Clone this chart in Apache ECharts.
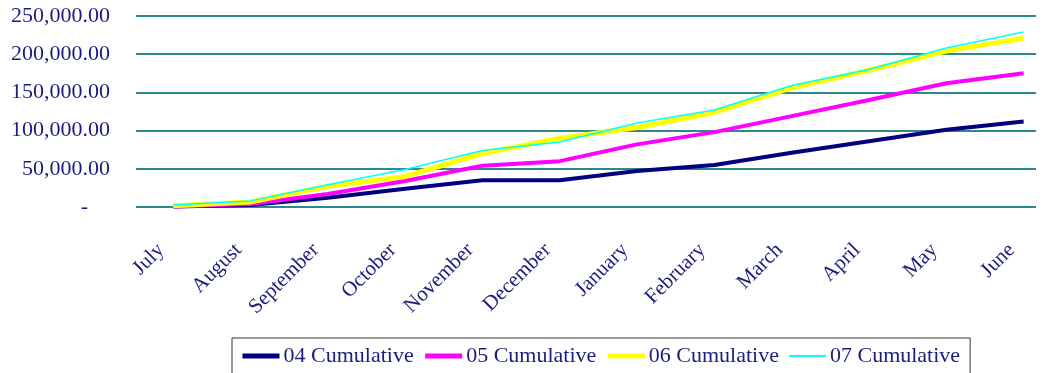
<!DOCTYPE html>
<html>
<head>
<meta charset="utf-8">
<script src="https://cdn.jsdelivr.net/npm/echarts@6/dist/echarts.min.js"></script>
<style>
  html, body { margin: 0; padding: 0; background: #fff; }
  #chart { width: 1052px; height: 373px; }
</style>
</head>
<body>
<div id="chart"></div>
<script>
// months along the x axis
var months = ['July', 'August', 'September', 'October', 'November', 'December',
  'January', 'February', 'March', 'April', 'May', 'June'];

// cumulative totals
var cum04 = [500, 2500, 12000, 24000, 35000, 35000, 47000, 55000, 71000, 86000, 101000, 112000];
var cum05 = [500, 4000, 17000, 34000, 54000, 60000, 82000, 98000, 119000, 140000, 162000, 175000];
var cum06 = [1500, 6500, 27000, 40000, 70000, 90000, 104000, 124000, 156000, 179000, 204000, 221000];
var cum07 = [2500, 8000, 29000, 49000, 74000, 85000, 110000, 127000, 159000, 180000, 208000, 229000];

var yTicks = [0, 50000, 100000, 150000, 200000, 250000];

var navy = '#1c1c80';
var font = '"Liberation Serif", "DejaVu Serif", serif';

function pairs(arr) {
  return arr.map(function (v, i) { return [i, v]; });
}

function fmt(v) {
  if (v === 0) return '{d|-}';
  return v.toLocaleString('en-US', { minimumFractionDigits: 2, maximumFractionDigits: 2 });
}

var myChart = echarts.init(document.getElementById('chart'));

var option = {
  animation: false,
  grid: { left: 136, right: 16, top: 16, bottom: 166 },
  xAxis: {
    type: 'value',
    min: -0.48,
    max: 11.16,
    splitLine: { show: false },
    axisLine: { show: false },
    axisTick: { show: false },
    axisLabel: {
      customValues: months.map(function (m, i) { return i; }),
      formatter: function (v) { return months[Math.round(v)]; },
      rotate: 45,
      margin: 28,
      padding: [0, 17, 0, 0],
      color: navy,
      fontSize: 21,
      fontFamily: font
    }
  },
  yAxis: {
    type: 'value',
    min: 0,
    max: yTicks[yTicks.length - 1],
    interval: 50000,
    axisLine: { show: false },
    axisTick: { show: false },
    splitLine: { lineStyle: { color: '#2a8a8a', width: 2 } },
    axisLabel: {
      margin: 26,
      color: navy,
      fontSize: 22,
      fontFamily: font,
      formatter: fmt,
      rich: { d: { color: navy, fontSize: 22, fontFamily: font, padding: [0, 22, 0, 0] } }
    }
  },
  legend: {
    top: 338,
    left: 232,
    padding: [7, 10, 14, 8],
    borderColor: '#333',
    borderWidth: 1,
    itemWidth: 37,
    itemHeight: 14,
    itemGap: 9,
    itemStyle: { opacity: 0 },
    textStyle: { color: navy, fontSize: 22, fontFamily: font, padding: [0, 0, 0, -1] },
    data: [
      { name: '04 Cumulative', lineStyle: { width: 5 } },
      { name: '05 Cumulative', lineStyle: { width: 5 } },
      { name: '06 Cumulative', lineStyle: { width: 5 } },
      { name: '07 Cumulative', lineStyle: { width: 2 } }
    ]
  },
  series: [
    { name: '04 Cumulative', type: 'line', data: pairs(cum04), symbol: 'none',
      color: '#000080', lineStyle: { color: '#000080', width: 4 } },
    { name: '05 Cumulative', type: 'line', data: pairs(cum05), symbol: 'none',
      color: '#ff00ff', lineStyle: { color: '#ff00ff', width: 4 } },
    { name: '06 Cumulative', type: 'line', data: pairs(cum06), symbol: 'none',
      color: '#ffff00', lineStyle: { color: '#ffff00', width: 5 } },
    { name: '07 Cumulative', type: 'line', data: pairs(cum07), symbol: 'none',
      color: '#00ffff', lineStyle: { color: '#00ffff', width: 1.5 } }
  ]
};

myChart.setOption(option);
</script>
</body>
</html>
